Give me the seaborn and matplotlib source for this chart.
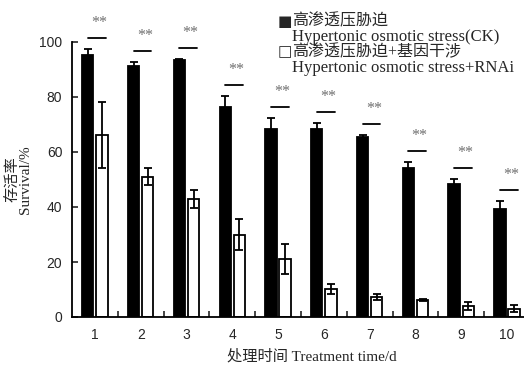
import numpy as np
import pandas as pd
import matplotlib
matplotlib.use("Agg")
import matplotlib.pyplot as plt
import seaborn as sns

# data
days = ["1", "2", "3", "4", "5", "6", "7", "8", "9", "10"]
ck_mean = [95.3, 91.3, 93.3, 76.3, 68.4, 68.2, 65.3, 54.3, 48.4, 39.3]
ck_err = [2.0, 1.4, 0.4, 4.0, 4.0, 2.2, 1.0, 2.0, 1.8, 3.0]
rnai_mean = [66.0, 51.0, 43.0, 30.0, 21.0, 10.2, 7.3, 6.2, 4.0, 3.0]
rnai_err = [12.0, 3.0, 3.2, 5.5, 5.5, 1.8, 1.2, 0.5, 1.4, 1.3]
sig = ["**"] * 10

ck_label = "高渗透压胁迫"
ck_label_en = "Hypertonic osmotic stress(CK)"
rnai_label = "高渗透压胁迫+基因干涉"
rnai_label_en = "Hypertonic osmotic stress+RNAi"

df = pd.DataFrame({
    "day": days * 2,
    "survival": ck_mean + rnai_mean,
    "err": ck_err + rnai_err,
    "group": ["CK"] * 10 + ["RNAi"] * 10,
})

sns.set_style("white")
serif = ["Liberation Serif", "DejaVu Sans", "Noto Sans CJK SC"]
plt.rcParams["font.family"] = ["Liberation Sans", "DejaVu Sans"]

fig = plt.figure(figsize=(5.24, 3.74), dpi=100)
ax = fig.add_axes([72 / 524, 1 - 317 / 374, 452 / 524, 275 / 374])

sns.barplot(data=df, x="day", y="survival", hue="group", hue_order=["CK", "RNAi"],
            palette={"CK": "black", "RNAi": "white"}, edgecolor="black", linewidth=1.3,
            width=0.62, gap=0.2, errorbar=None, legend=False, ax=ax)

# error bars from the drawn bars
for cont, errs in zip(ax.containers, [ck_err, rnai_err]):
    xs = [b.get_x() + b.get_width() / 2 for b in cont]
    ys = [b.get_height() for b in cont]
    ax.errorbar(xs, ys, yerr=errs, fmt="none", ecolor="black", elinewidth=1.3,
                capsize=3.2, capthick=1.3, zorder=5)

# significance lines and stars
for i, b in enumerate(ax.containers[0]):
    w = ax.containers[1][i]
    x0 = b.get_x() + b.get_width() / 2
    x1 = w.get_x() + w.get_width() / 2 + 0.08
    y = ck_mean[i] + ck_err[i] + 4
    ax.plot([x0, x1], [y, y], color="black", lw=1.3, clip_on=False)
    ax.text((x0 + x1) / 2 + 0.05, y + 5.5, sig[i], ha="center", va="center",
            fontsize=11.5, color="#707070", family=serif, clip_on=False)

ax.set_ylim(0, 100)
ax.set_xlim(-0.5, 9.37)
ax.set_yticks([0, 20, 40, 60, 80, 100])
ax.set_xticks(range(10))
ax.set_xticklabels(days)
ax.set_xticks(np.arange(0.5, 9, 1), minor=True)
ax.tick_params(axis="y", direction="in", length=4, width=1.2, labelsize=10, pad=7, left=True)
ax.tick_params(axis="x", which="major", length=0, labelsize=10, pad=8)
ax.tick_params(axis="x", which="minor", direction="in", length=4, width=1.2, bottom=True)
for s in ["top", "right"]:
    ax.spines[s].set_visible(False)
for s in ["left", "bottom"]:
    ax.spines[s].set_linewidth(1.3)
    ax.spines[s].set_color("black")

ax.set_ylabel("存活率\nSurvival/%", family=serif, fontsize=11, linespacing=1.0, labelpad=5)
ax.set_xlabel("处理时间 Treatment time/d", family=serif, fontsize=11, va="center")
ax.xaxis.set_label_coords(0.531, -0.142)

# legend as text lines
fig.text(278 / 524, 1 - 21 / 374, "■", fontsize=11, family=["DejaVu Sans"], va="center")
fig.text(292 / 524, 1 - 21 / 374, ck_label, fontsize=11.5, family=serif, va="center")
fig.text(292 / 524, 1 - 37 / 374, ck_label_en, fontsize=12, family=serif, va="center")
fig.text(278 / 524, 1 - 52 / 374, "□", fontsize=11, family=["DejaVu Sans"], va="center")
fig.text(292 / 524, 1 - 52 / 374, rnai_label, fontsize=11.5, family=serif, va="center")
fig.text(292 / 524, 1 - 68 / 374, rnai_label_en, fontsize=12, family=serif, va="center")

fig.savefig("out.png", dpi=100)
